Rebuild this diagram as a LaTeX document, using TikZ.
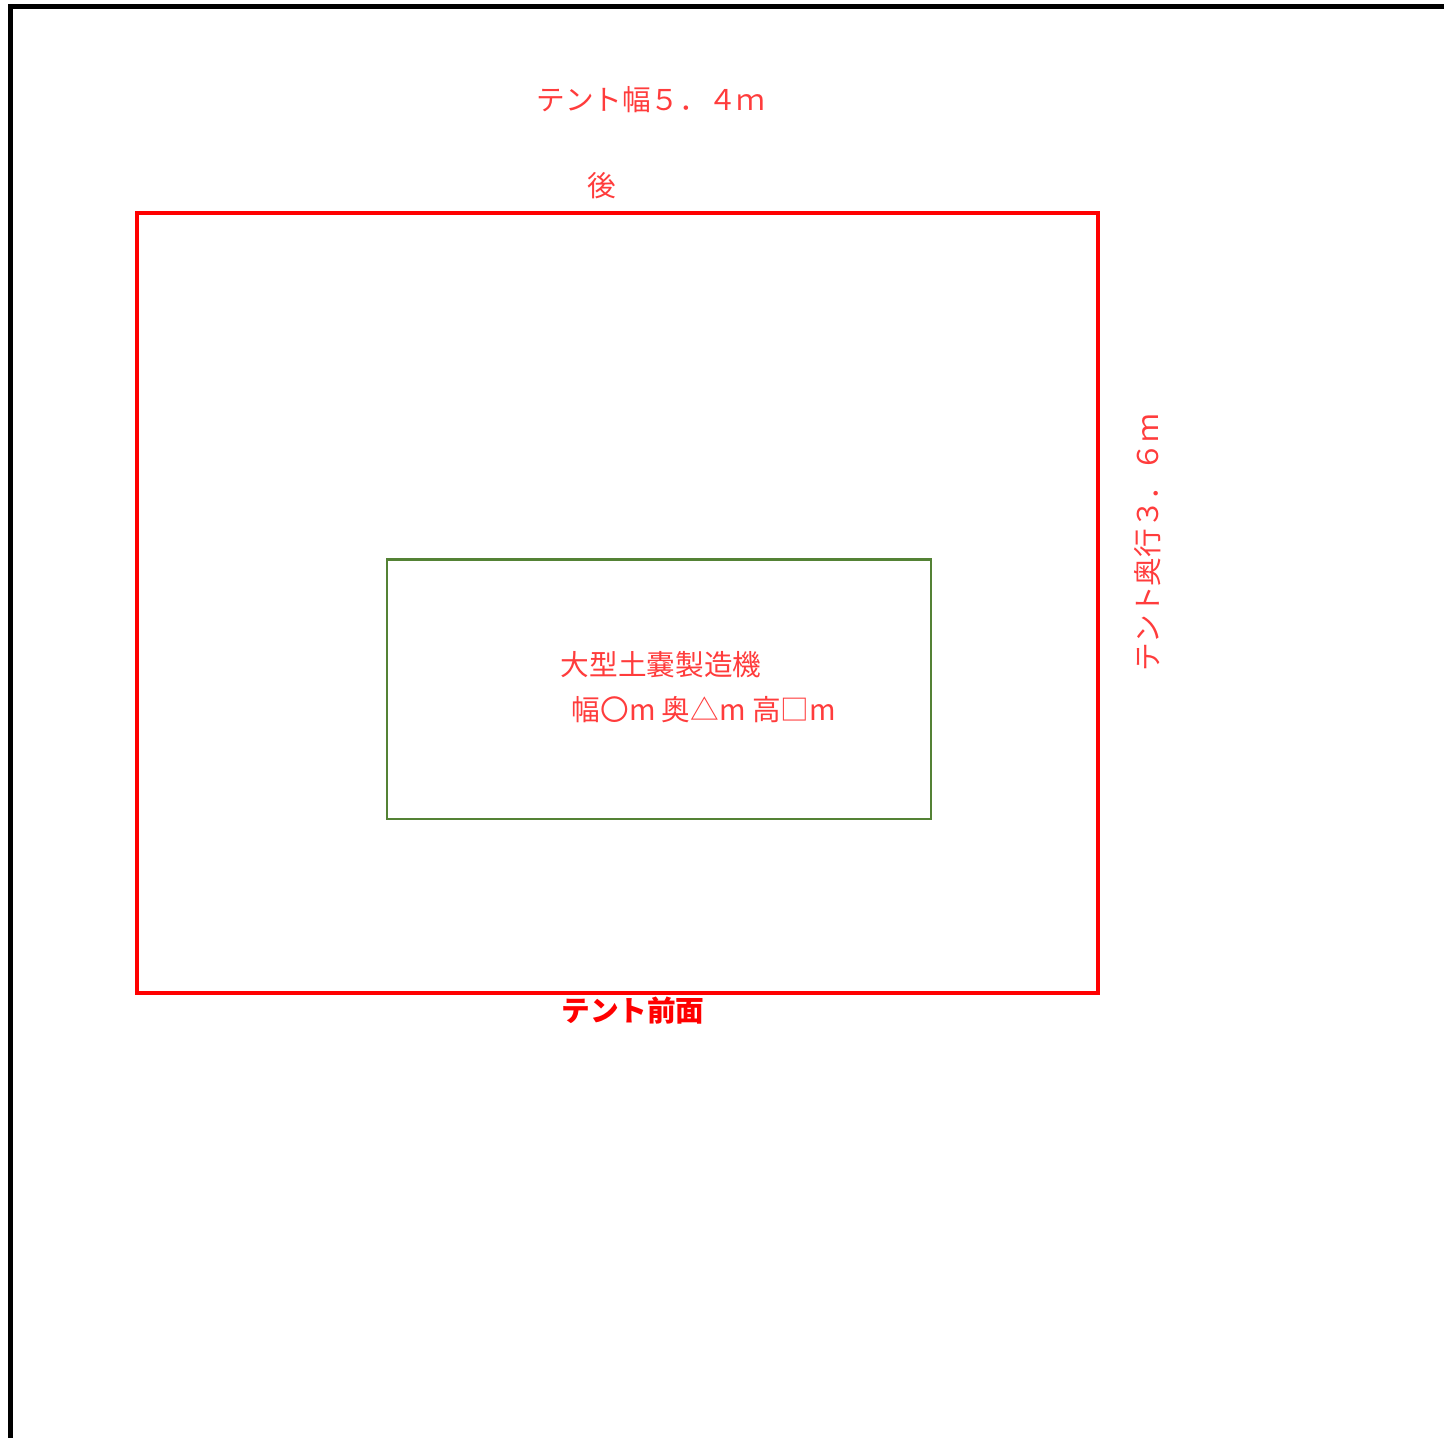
\documentclass[tikz,border=0pt]{standalone}
\usepackage{fontspec}
\newfontfamily\jp{Noto Sans CJK JP}
\definecolor{tentred}{RGB}{255,60,60}
\definecolor{machgreen}{RGB}{84,130,53}
\begin{document}
\begin{tikzpicture}[x=0.01cm,y=-0.01cm]
%\draw[step=100,gray,very thin] (0,0) grid (1444,1438); %background grid
\useasboundingbox (0,0) rectangle (1444,1438);

%frame
\draw[line width=0.05cm] (1444,6.5) -- (10.5,6.5) -- (10.5,1438);

%tent
\draw[red,line width=0.048cm] (137,213) -- (1098,213) -- (1098,993) -- (137,993) -- cycle;

%machine
\draw[machgreen,line width=0.028cm] (387,559.5) -- (931,559.5) -- (931,819) -- (387,819) -- cycle;

%labels
\node[text=tentred,font=\jp\fontsize{8.15}{10}\selectfont] (width) at (651,100) {テント幅５．４ｍ};
\node[text=tentred,font=\jp\fontsize{8.15}{10}\selectfont] (back) at (602,186) {後};
\node[text=tentred,font=\jp\fontsize{8.15}{10}\selectfont,rotate=90] (depth) at (1148,543) {テント奥行３．６ｍ};
\node[text=red,font=\jp\bfseries\fontsize{8.15}{10}\selectfont] (front) at (633,1011) {テント前面};
\node[text=tentred,font=\jp\fontsize{8.15}{10}\selectfont,anchor=west,inner sep=0pt] (machine) at (560,665) {大型土嚢製造機};
\node[text=tentred,font=\jp\fontsize{8.15}{10}\selectfont,anchor=west,inner sep=0pt] (size) at (571,710) {幅〇m 奥△m 高□m};

\end{tikzpicture}
\end{document}
